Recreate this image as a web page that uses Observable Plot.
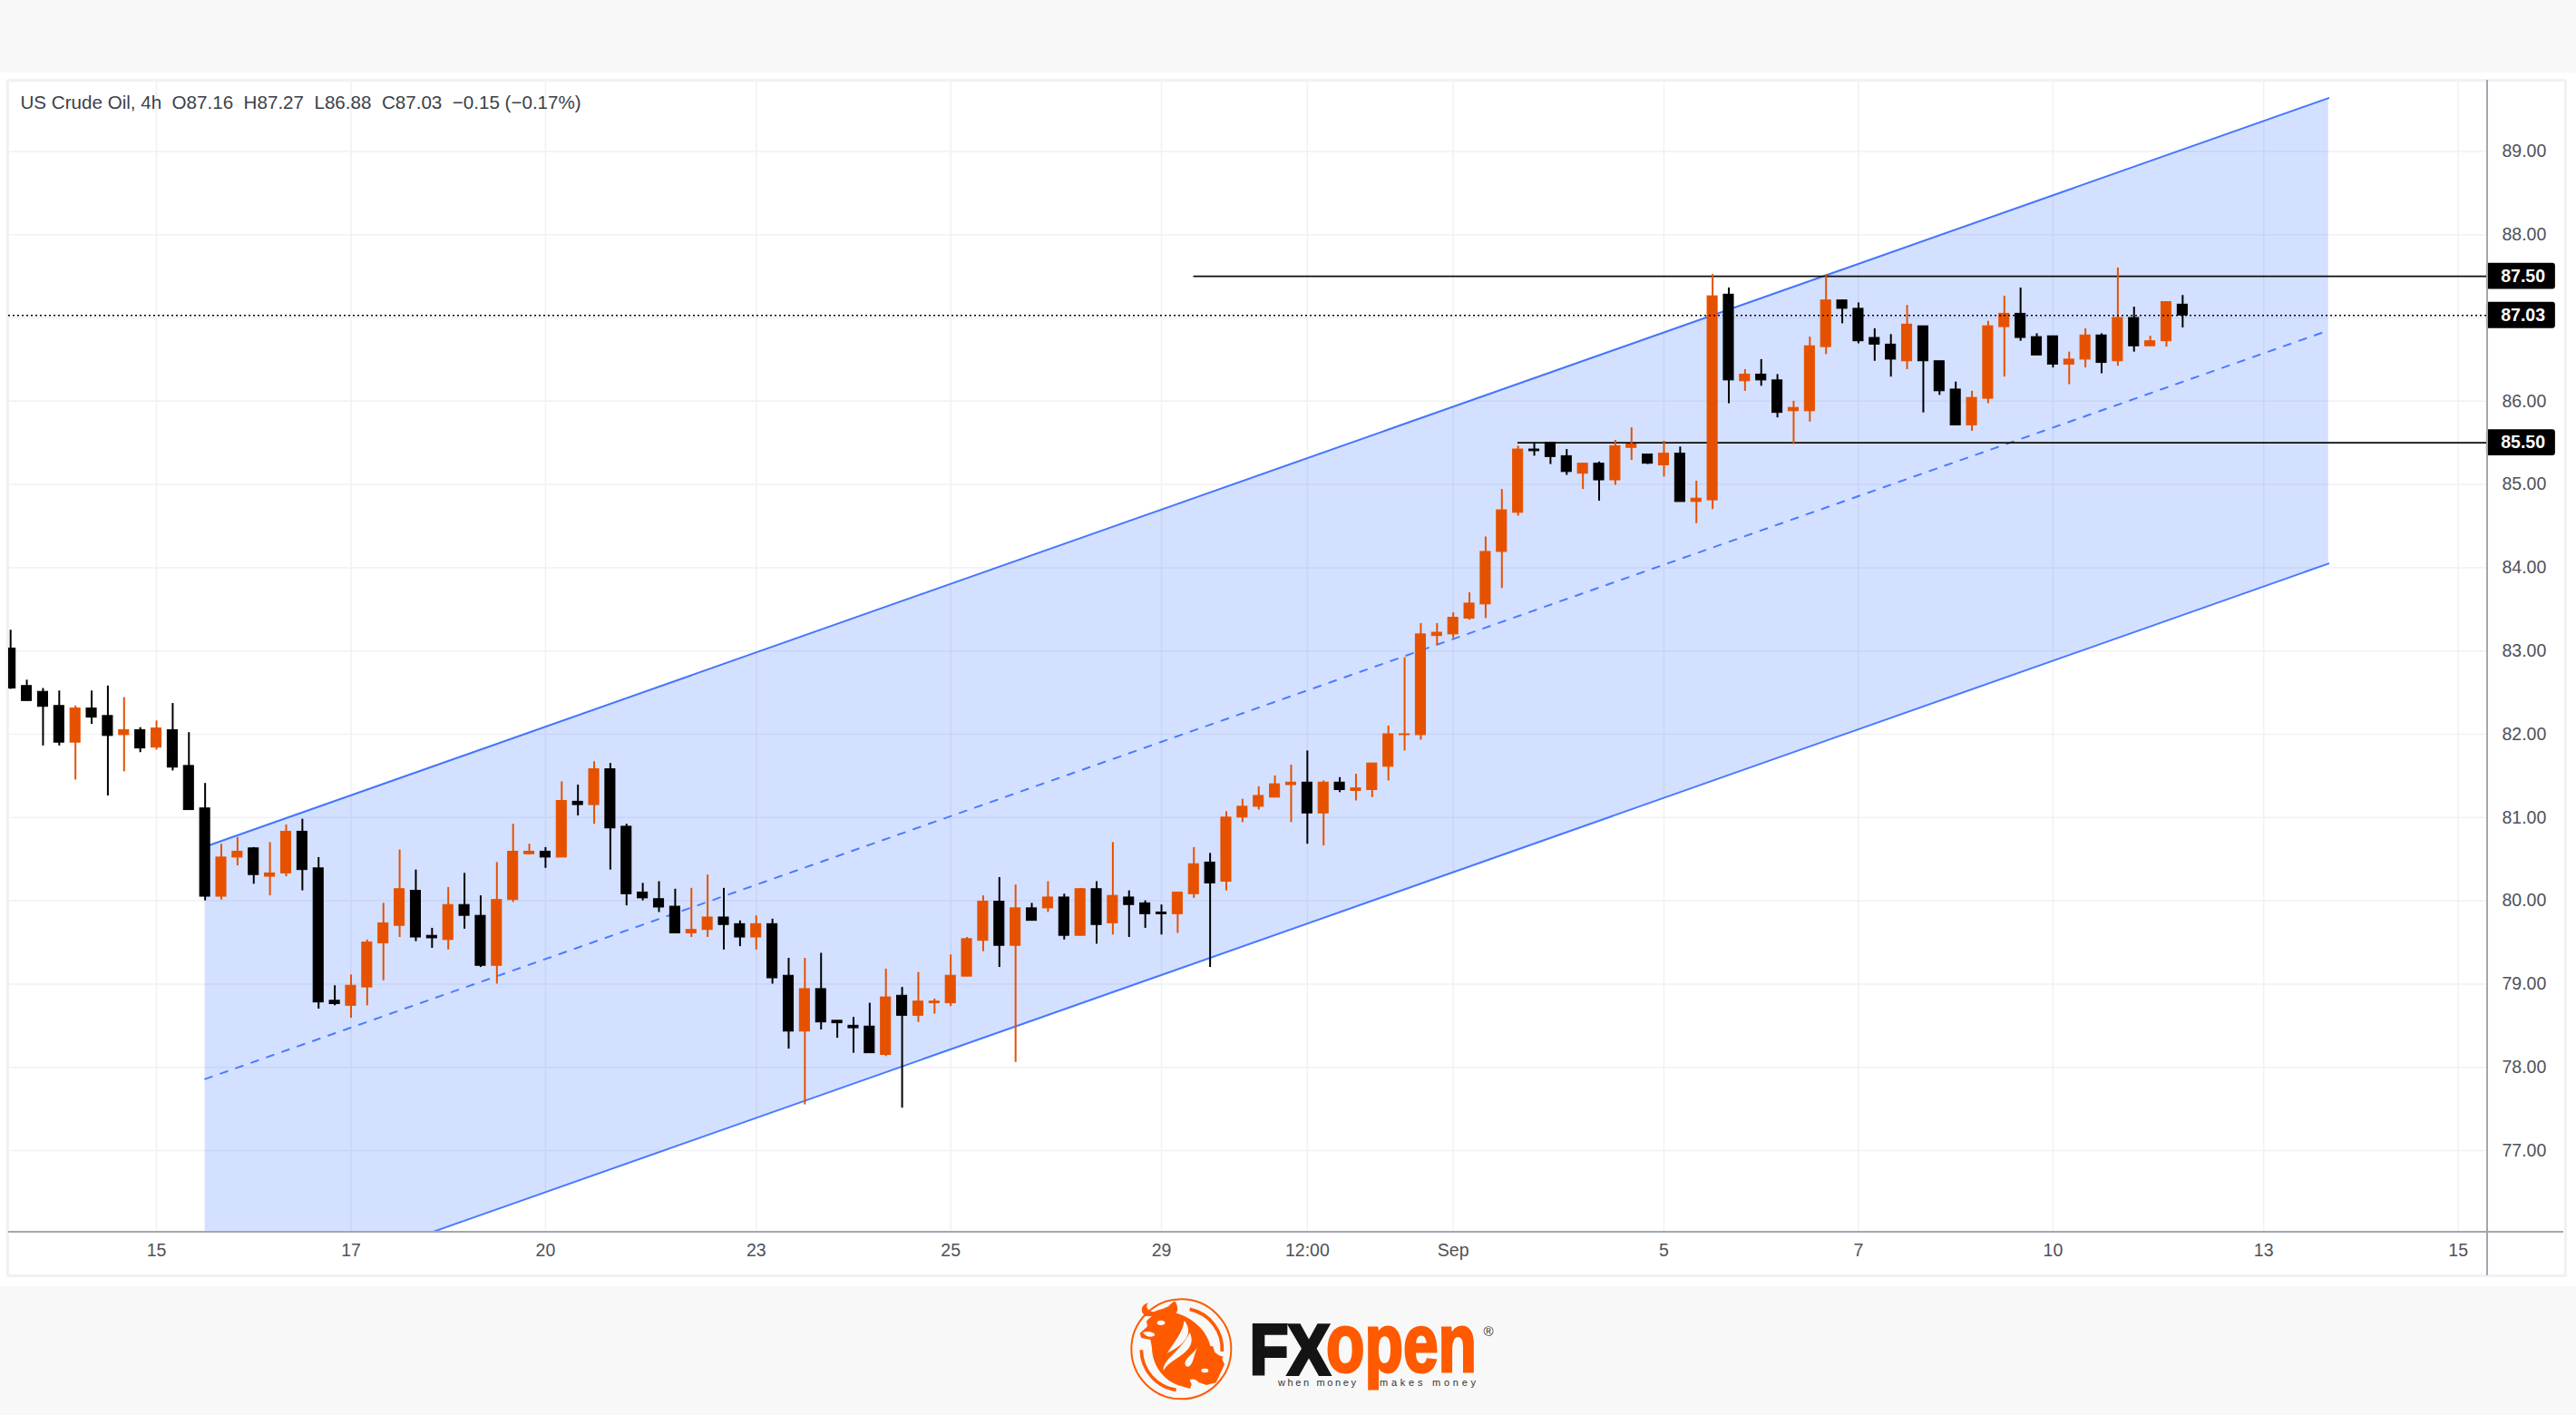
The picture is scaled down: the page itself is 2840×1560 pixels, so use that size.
<!DOCTYPE html>
<html>
<head>
<meta charset="utf-8">
<script src="https://cdn.jsdelivr.net/npm/d3@7"></script>
<script src="https://cdn.jsdelivr.net/npm/@observablehq/plot@0.6"></script>
<style>
  html,body{margin:0;padding:0;background:#fff;width:2840px;height:1560px;overflow:hidden}
  .band{position:absolute;left:0;width:2840px;background:#f8f8f8}
  .frame{position:absolute;left:7px;top:87px;width:2817px;height:1315px;border:3px solid #f0f0f5;border-radius:3px}
  .axisline{position:absolute;background:#a4a6af}
  #chart{position:absolute;left:0;top:0}
  #chart svg{background:transparent}
  #logo{position:absolute;left:0;top:0}
</style>
</head>
<body>
<div class="band" style="top:0;height:80px"></div>
<div class="band" style="top:1418px;height:142px"></div>
<div class="frame"></div>
<div id="chart"></div>
<div class="axisline" style="left:2741px;top:88px;width:2px;height:1318px"></div>
<div class="axisline" style="left:9px;top:1357px;width:2817px;height:2px"></div>
<svg id="logo" width="2840" height="1560" xmlns="http://www.w3.org/2000/svg">
  <g transform="translate(1240,1425) scale(0.3333)" fill="#ff5a00">
    <circle cx="187" cy="187" r="165" fill="none" stroke="#ff5a00" stroke-width="6"/>
    <path d="M215,55 A135,135 0 0 1 322,195" fill="none" stroke="#ff5a00" stroke-width="11"/>
    <path d="M55,190 A135,135 0 0 0 170,322" fill="none" stroke="#ff5a00" stroke-width="11"/>
    <path d="M72,95 C95,62 150,58 190,75 C240,95 280,140 285,188 L318,212 L330,238 L302,298 L270,306 L226,290 L216,318 L176,306 C130,290 90,240 90,182 L85,156 L55,150 L50,135 L75,112 Z"/>
    <path d="M68,78 C48,62 55,40 78,34 C66,50 76,60 96,64 C120,54 146,50 150,40 L165,28 C182,50 176,76 150,80 Z"/>
    <path d="M245,172 L262,176 L292,178 L300,205 L326,212 L310,240 L270,232 Z"/>
    <path d="M197,92 C226,130 208,168 140,200 C172,152 192,130 197,92 Z" fill="#f8f8f8"/>
    <path d="M128,258 C124,222 190,190 215,132 C236,176 200,200 160,226 C140,240 134,250 128,258 Z" fill="#f8f8f8"/>
    <path d="M240,180 C228,205 188,222 203,244 C224,252 226,216 240,180 Z" fill="#f8f8f8"/>
    <ellipse cx="120" cy="100" rx="13" ry="8" fill="#f8f8f8"/>
    <ellipse cx="265" cy="258" rx="12" ry="7" fill="#f8f8f8"/>
    <path d="M215,288 C228,282 250,292 248,312 C235,320 220,308 215,288 Z" fill="#f8f8f8"/>
    <path d="M60,132 C75,125 95,130 100,140 C90,150 70,148 60,132 Z" fill="#f8f8f8"/>
  </g>
  <text x="1378" y="1515" textLength="88" lengthAdjust="spacingAndGlyphs" font-family="Liberation Sans" font-weight="700" font-size="77" fill="#141414" stroke="#141414" stroke-width="4">FX</text>
  <text x="1462" y="1512" textLength="166" lengthAdjust="spacingAndGlyphs" font-family="Liberation Sans" font-weight="700" font-size="90" fill="#ff5a00" stroke="#ff5a00" stroke-width="3">open</text>
  <text x="1409" y="1528" textLength="86" font-family="Liberation Sans" font-size="11" fill="#333">when money</text>
  <text x="1521" y="1528" textLength="106" font-family="Liberation Sans" font-size="11" fill="#333">makes money</text>
  <text x="1641" y="1473" text-anchor="middle" font-family="Liberation Sans" font-size="15" fill="#333">®</text>
</svg>
<script>
// Candle values (index 0..134)
const highs = [83.25,82.65,82.55,82.52,82.34,82.52,82.58,82.44,82.08,82.16,
  82.37,82.02,81.41,80.68,80.76,80.64,80.70,80.91,80.98,80.52,
  78.98,79.11,79.53,79.97,80.61,80.37,79.67,80.16,80.33,80.06,
  80.46,80.92,80.68,80.64,81.43,81.39,81.67,81.65,80.92,80.21,
  80.23,80.14,80.15,80.31,80.15,79.76,79.82,79.78,79.31,79.31,
  79.37,78.56,78.60,78.77,79.18,78.96,79.14,78.82,79.35,79.56,
  80.06,80.28,80.19,79.97,80.23,80.08,80.15,80.23,80.70,80.12,
  80.00,79.95,80.10,80.64,80.57,81.07,81.22,81.37,81.50,81.63,
  81.80,81.44,81.48,81.52,81.65,82.10,82.92,83.33,83.33,83.46,
  83.70,84.37,84.94,85.46,85.50,85.50,85.42,85.25,85.27,85.53,
  85.68,85.36,85.52,85.45,85.04,87.52,87.36,86.38,86.50,86.32,
  86.00,86.77,87.52,87.21,87.18,86.87,86.80,87.15,86.90,86.48,
  86.23,86.12,86.96,87.26,87.36,86.81,86.78,86.59,86.87,86.81,
  87.60,87.13,86.78,87.19,87.27];
const bodyTops = [83.03,82.58,82.51,82.34,82.31,82.31,82.22,82.05,82.05,82.07,
  82.05,81.62,81.11,80.52,80.59,80.63,80.33,80.83,80.83,80.39,
  78.80,78.98,79.50,79.73,80.14,80.12,79.58,79.95,79.95,79.82,
  80.01,80.59,80.59,80.59,81.20,81.19,81.58,81.58,80.89,80.10,
  80.02,79.93,79.65,79.80,79.80,79.72,79.72,79.72,79.10,78.94,
  78.94,78.56,78.50,78.49,78.84,78.86,78.79,78.79,79.10,79.54,
  79.99,79.99,79.91,79.91,80.04,80.04,80.14,80.14,80.06,80.04,
  79.97,79.86,80.10,80.44,80.46,81.00,81.13,81.26,81.40,81.42,
  81.42,81.42,81.42,81.35,81.65,82.00,82.00,83.20,83.22,83.40,
  83.57,84.19,84.69,85.42,85.42,85.50,85.34,85.25,85.25,85.46,
  85.48,85.36,85.37,85.37,84.83,87.26,87.28,86.32,86.32,86.25,
  85.92,86.66,87.21,87.21,87.11,86.76,86.68,86.92,86.90,86.48,
  86.14,86.04,86.90,87.05,87.05,86.77,86.78,86.50,86.79,86.79,
  87.00,87.00,86.72,87.19,87.16];
const bodyBottoms = [82.55,82.40,82.33,81.90,81.90,82.20,81.98,81.99,81.83,81.84,
  81.60,81.09,80.05,80.05,80.52,80.31,80.29,80.33,80.37,78.78,
  78.76,78.74,78.96,79.49,79.70,79.56,79.55,79.53,79.82,79.22,
  79.22,80.01,80.56,80.52,80.52,81.15,81.15,80.87,80.08,80.03,
  79.92,79.61,79.61,79.65,79.71,79.56,79.56,79.07,78.43,78.43,
  78.54,78.53,78.47,78.17,78.15,78.62,78.62,78.77,78.77,79.09,
  79.52,79.46,79.46,79.76,79.91,79.58,79.58,79.71,79.73,79.95,
  79.84,79.84,79.84,80.08,80.21,80.23,81.00,81.13,81.24,81.39,
  81.05,81.05,81.33,81.32,81.33,81.61,81.99,81.99,83.18,83.20,
  83.39,83.56,84.19,84.66,85.40,85.33,85.15,85.13,85.05,85.05,
  85.44,85.25,85.23,84.79,84.79,84.81,86.25,86.24,86.25,85.86,
  85.88,85.88,86.65,87.11,86.72,86.68,86.50,86.48,86.48,86.12,
  85.71,85.71,86.03,86.89,86.76,86.55,86.44,86.44,86.50,86.46,
  86.48,86.66,86.66,86.72,87.03];
const lows = [82.54,82.40,81.86,81.86,81.45,82.12,81.26,81.55,81.78,81.81,
  81.56,81.09,80.00,80.01,80.42,80.20,80.06,80.29,80.12,78.70,
  78.74,78.59,78.74,79.04,79.56,79.51,79.43,79.41,79.66,79.20,
  79.00,79.98,80.55,80.39,80.52,81.02,80.92,80.37,79.94,80.00,
  79.86,79.61,79.56,79.56,79.41,79.45,79.41,79.00,78.22,77.55,
  78.45,78.35,78.17,78.17,78.13,77.51,78.54,78.64,78.73,79.09,
  79.39,79.20,78.06,79.76,79.86,79.53,79.58,79.48,79.59,79.56,
  79.67,79.59,79.61,80.03,79.20,80.12,80.94,81.09,81.24,80.94,
  80.68,80.66,81.30,81.20,81.24,81.44,81.80,81.93,83.07,83.15,
  83.37,83.39,83.75,84.62,85.34,85.24,85.11,84.94,84.80,84.99,
  85.29,85.24,85.09,84.79,84.53,84.70,85.97,86.12,86.18,85.80,
  85.48,85.75,86.56,86.93,86.69,86.48,86.29,86.38,85.86,86.07,
  85.71,85.64,85.97,86.29,86.72,86.55,86.40,86.20,86.40,86.33,
  86.42,86.59,86.66,86.65,86.88];
const risingFlags = ("0000100101"+"0001101100"+"0111100100"+"1110101000"+"0011001001"+
  "0000101111"+"1010101010"+"0011011111"+"0101111111"+"1111000101"+
  "1010110100"+"1110000100"+"0111000110"+"10110").split("");

// Axis ticks
const priceTicks = [77,78,79,80,81,82,83,84,85,86,88,89];
const gridPrices = [77,78,79,80,81,82,83,84,85,86,87,88,89];
const dateTickIndex = [9,21,33,46,58,71,80,89,102,114,126,139,151];
const dateTickLabels = ["15","17","20","23","25","29","12:00","Sep","5","7","10","13","15"];

// Channel drawing
const channelIndex = [12,143];
const channelUpper = [80.65,89.64];
const channelMiddle = [77.86,86.85];
const channelLower = [75.06,84.05];

// Horizontal levels
const levelValues = [87.50,85.50];
const levelStartIndex = [73,93];
const lastPrice = 87.03;
const tagValues = [87.50,87.03,85.50];
const legendText = "US Crude Oil, 4h  O87.16  H87.27  L86.88  C87.03  \u22120.15 (\u22120.17%)";

const ORANGE = "#e65100", BLUE = "#2962ff";
const candles = highs.map((h,i)=>({i,high:h,top:bodyTops[i],bottom:bodyBottoms[i],low:lows[i],
  color:risingFlags[i]==="1"?ORANGE:"#000000"}));
const channel = channelIndex.map((x,k)=>({x,upper:channelUpper[k],middle:channelMiddle[k],lower:channelLower[k]}));
const levels = levelValues.flatMap((v,k)=>[{k,x:levelStartIndex[k],v},{k,x:152.8,v}]);
const xMin=-0.123, xMax=152.81;
const halfBody=0.31, halfTag=0.157, tagX1=152.75, tagX2=157, tagXc=155;
const FONT="Liberation Sans, Arial, sans-serif";

const chart = Plot.plot({
  width:2840, height:1560,
  marginLeft:9, marginRight:98, marginTop:88, marginBottom:202,
  style:{background:"transparent",fontFamily:FONT},
  x:{type:"linear",domain:[xMin,xMax]},
  y:{type:"linear",domain:[76.02,89.854]},
  marks:[
    Plot.gridY(gridPrices,{stroke:"#f1f1f5",strokeOpacity:1,strokeWidth:1.5}),
    Plot.gridX(dateTickIndex,{stroke:"#f1f1f5",strokeOpacity:1,strokeWidth:1.5}),
    Plot.areaY(channel,{x:"x",y1:"lower",y2:"upper",fill:BLUE,fillOpacity:0.2,clip:true}),
    Plot.line(channel,{x:"x",y:"upper",stroke:BLUE,strokeWidth:2,strokeOpacity:0.85,clip:true}),
    Plot.line(channel,{x:"x",y:"lower",stroke:BLUE,strokeWidth:2,strokeOpacity:0.85,clip:true}),
    Plot.line(channel,{x:"x",y:"middle",stroke:BLUE,strokeWidth:2,strokeOpacity:0.8,strokeDasharray:"8 10",clip:true}),
    Plot.line(levels,{x:"x",y:"v",z:"k",stroke:"#0c0c0c",strokeWidth:1.8}),
    Plot.ruleX(candles,{x:"i",y1:"low",y2:"high",stroke:"color",strokeWidth:2,clip:true}),
    Plot.rect(candles,{x1:d=>d.i-halfBody,x2:d=>d.i+halfBody,y1:"bottom",y2:"top",fill:"color",stroke:"color",strokeWidth:1,clip:true}),
    Plot.ruleY([lastPrice],{stroke:"#000",strokeWidth:1.5,strokeDasharray:"2 3",x1:xMin,x2:xMax}),
    Plot.rect(tagValues,{x1:tagX1,x2:tagX2,y1:d=>d-halfTag,y2:d=>d+halfTag,fill:"#000",rx:3}),
    Plot.text(tagValues,{x:tagXc,y:d=>d,text:d=>d3.format(".2f")(d),fill:"#fff",fontSize:19.5,fontWeight:700}),
    Plot.text([legendText],{frameAnchor:"top-left",dx:13,dy:17,text:d=>d,fontSize:20.6,fill:"#3c3f48",textAnchor:"start"}),
    Plot.axisY({anchor:"right",ticks:priceTicks,tickFormat:d3.format(".2f"),tickSize:0,tickPadding:16,fontSize:19.5,label:null,color:"#4f5159"}),
    Plot.axisX({anchor:"bottom",ticks:dateTickIndex,tickFormat:(d)=>dateTickLabels[dateTickIndex.indexOf(d)],tickSize:0,tickPadding:13,fontSize:19.5,label:null,color:"#4f5159"})
  ]
});
document.getElementById("chart").append(chart);
</script>
</body>
</html>
